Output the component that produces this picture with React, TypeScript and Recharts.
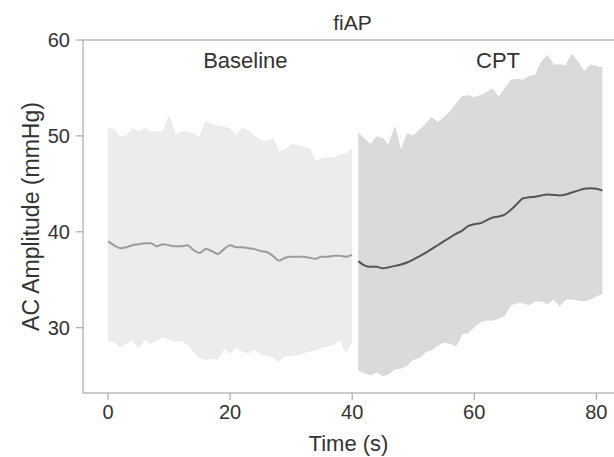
import React from "react"
import {
  ComposedChart,
  Area,
  Line,
  XAxis,
  YAxis,
  ReferenceLine,
  ReferenceDot,
} from "recharts"

// seconds since segment start
const baselineTime = [
  0, 1, 2, 3, 4, 5, 6, 7, 8, 9, 10, 11, 12, 13, 14, 15, 16, 17, 18, 19, 20,
  21, 22, 23, 24, 25, 26, 27, 28, 29, 30, 31, 32, 33, 34, 35, 36, 37, 38, 39, 40,
]
const baselineMean = [
  39.0, 38.6, 38.3, 38.4, 38.6, 38.7, 38.8, 38.8, 38.5, 38.7, 38.6, 38.5, 38.5,
  38.6, 38.1, 37.8, 38.2, 38.0, 37.7, 38.2, 38.6, 38.4, 38.4, 38.3, 38.2, 38.0,
  37.9, 37.5, 37.0, 37.3, 37.4, 37.4, 37.4, 37.3, 37.2, 37.4, 37.4, 37.5, 37.5,
  37.4, 37.6,
]
const baselineUpper = [
  50.7, 50.7, 49.8, 50.0, 50.7, 50.4, 50.8, 50.4, 50.4, 50.4, 52.0, 50.0, 50.4,
  50.4, 50.2, 49.8, 51.5, 51.2, 51.0, 50.9, 50.7, 50.0, 50.8, 50.5, 50.0, 49.5,
  49.4, 49.7, 48.3, 48.5, 49.1, 49.0, 48.8, 48.7, 47.3, 47.6, 47.7, 47.7, 48.0,
  48.1, 48.7,
]
const baselineLower = [
  28.7, 28.6, 28.0, 28.4, 28.8, 27.9, 28.8, 28.4, 28.7, 29.1, 28.8, 28.6, 28.7,
  28.3, 27.6, 26.9, 26.7, 26.8, 26.8, 27.9, 27.4, 28.0, 27.6, 27.4, 27.8, 27.3,
  27.1, 27.0, 26.5, 27.1, 27.1, 27.2, 27.4, 27.6, 27.7, 28.0, 28.1, 28.3, 28.8,
  27.5, 28.7,
]

const cptTime = [
  41, 42, 43, 44, 45, 46, 47, 48, 49, 50, 51, 52, 53, 54, 55, 56, 57, 58, 59,
  60, 61, 62, 63, 64, 65, 66, 67, 68, 69, 70, 71, 72, 73, 74, 75, 76, 77, 78,
  79, 80, 81,
]
const cptMean = [
  36.95, 36.5, 36.35, 36.35, 36.2, 36.3, 36.45, 36.6, 36.8, 37.1, 37.45, 37.8,
  38.2, 38.6, 39.0, 39.4, 39.8, 40.1, 40.6, 40.8, 40.9, 41.2, 41.5, 41.6, 41.8,
  42.3, 42.9, 43.5, 43.6, 43.65, 43.8, 43.9, 43.85, 43.8, 43.9, 44.1, 44.3,
  44.5, 44.55, 44.5, 44.3,
]
const cptUpper = [
  50.3, 49.7, 49.1, 49.9, 49.7, 49.0, 50.9, 48.4, 50.2, 50.0, 50.6, 51.2, 51.9,
  51.4, 51.9, 52.5, 53.3, 54.1, 54.2, 54.0, 54.2, 54.5, 54.9, 54.0, 54.9, 55.8,
  55.9, 55.8, 56.2, 56.3, 57.7, 58.4, 57.4, 57.4, 57.3, 58.5, 57.7, 56.7, 57.4,
  57.2, 57.1,
]
const cptLower = [
  25.6, 25.3, 25.1, 25.4, 25.0, 25.2, 25.7, 25.8, 26.1, 26.7, 26.9, 27.5, 27.7,
  28.2, 28.5, 28.4, 28.1, 29.4, 29.5, 30.1, 30.6, 30.8, 30.8, 31.0, 31.3, 32.4,
  32.6, 32.6, 32.4, 32.8, 32.8, 32.5, 33.0, 32.3, 33.0, 33.0, 32.9, 32.8, 33.0,
  33.3, 33.6,
]

const xTicks = [0, 20, 40, 60, 80]
const yTicks = [30, 40, 50, 60]

type Row = {
  t: number
  bMean?: number | null
  bLo?: number | null
  bHi?: number | null
  cMean?: number | null
  cLo?: number | null
  cHi?: number | null
}

const rows: Row[] = [
  ...baselineTime.map((t, i) => ({
    t,
    bMean: baselineMean[i],
    bLo: baselineLower[i],
    bHi: baselineUpper[i],
    cMean: null,
    cLo: null,
    cHi: null,
  })),
  ...cptTime.map((t, i) => ({
    t,
    bMean: null,
    bLo: null,
    bHi: null,
    cMean: cptMean[i],
    cLo: cptLower[i],
    cHi: cptUpper[i],
  })),
]

const font = '"Liberation Sans", Arial, sans-serif'
const axisGray = "#9a9a9a"
const textDark = "#333333"

export default function App() {
  return (
    <div
      style={{
        position: "fixed",
        left: 0,
        top: 0,
        width: 614,
        height: 457,
        background: "#fff",
        fontFamily: font,
      }}
    >
      <ComposedChart
        width={614}
        height={457}
        data={rows}
        margin={{ top: 40, right: 0, bottom: 0, left: 0 }}
      >
        <XAxis
          dataKey="t"
          type="number"
          domain={[-4.1, 82.9]}
          allowDataOverflow
          ticks={xTicks}
          height={64}
          tickSize={7}
          tickMargin={5}
          axisLine={{ stroke: axisGray }}
          tickLine={{ stroke: axisGray }}
          tick={{ fill: textDark, fontSize: 20, fontFamily: font }}
          label={{
            value: "Time (s)",
            position: "insideBottom",
            offset: 6,
            fill: textDark,
            fontSize: 22,
            fontFamily: font,
          }}
        />
        <YAxis
          type="number"
          domain={[23.2, 60]}
          allowDataOverflow
          ticks={yTicks}
          width={83}
          tickSize={7}
          tickMargin={6}
          axisLine={{ stroke: axisGray }}
          tickLine={{ stroke: axisGray }}
          tick={{ fill: textDark, fontSize: 20, fontFamily: font }}
          label={{
            value: "AC Amplitude (mmHg)",
            angle: -90,
            position: "insideLeft",
            offset: 31,
            fill: textDark,
            fontSize: 23,
            fontFamily: font,
            style: { textAnchor: "middle" },
          }}
        />
        <ReferenceLine
          y={60}
          stroke={axisGray}
          label={{
            value: "fiAP",
            position: "top",
            offset: 10,
            dx: 4,
            fill: textDark,
            fontSize: 21,
            fontFamily: font,
          }}
        />
        <Area
          dataKey={(d: Row) => (d.bLo == null ? null : [d.bLo, d.bHi])}
          type="linear"
          fill="#ececec"
          fillOpacity={1}
          stroke="#e4e4e4"
          strokeWidth={0.8}
          isAnimationActive={false}
        />
        <Area
          dataKey={(d: Row) => (d.cLo == null ? null : [d.cLo, d.cHi])}
          type="linear"
          fill="#dadada"
          fillOpacity={1}
          stroke="#d2d2d2"
          strokeWidth={0.8}
          isAnimationActive={false}
        />
        <Line
          dataKey="bMean"
          type="monotone"
          stroke="#9c9c9c"
          strokeWidth={2}
          dot={false}
          isAnimationActive={false}
        />
        <Line
          dataKey="cMean"
          type="monotone"
          stroke="#555555"
          strokeWidth={2}
          dot={false}
          isAnimationActive={false}
        />
        <ReferenceDot
          x={22.5}
          y={57.9}
          r={0}
          fill="none"
          stroke="none"
          label={{
            value: "Baseline",
            position: "center",
            fill: textDark,
            fontSize: 22,
            fontFamily: font,
          }}
        />
        <ReferenceDot
          x={63.9}
          y={57.9}
          r={0}
          fill="none"
          stroke="none"
          label={{
            value: "CPT",
            position: "center",
            fill: textDark,
            fontSize: 22,
            fontFamily: font,
          }}
        />
      </ComposedChart>
    </div>
  )
}
